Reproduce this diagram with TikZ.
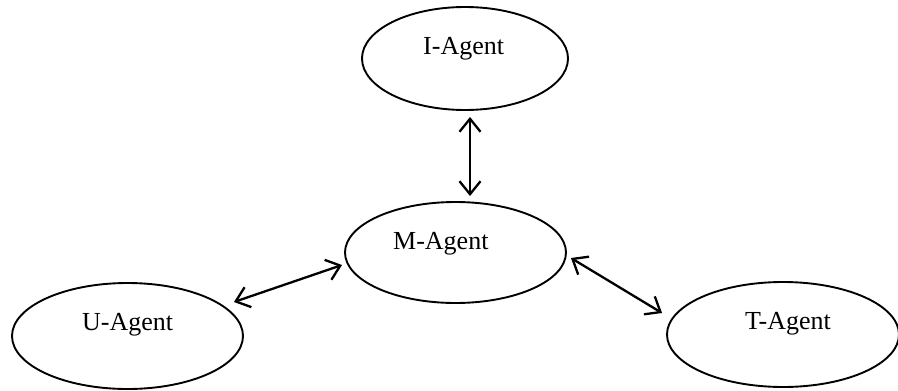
\documentclass[tikz,border=0pt]{standalone}
\usepackage{fontspec}
\setmainfont{Liberation Serif}
\usetikzlibrary{shapes.geometric,arrows.meta}
\begin{document}
\begin{tikzpicture}[x=1pt,y=-1pt,
  agent/.style={draw, ellipse, line width=1.9pt, inner sep=0pt},
  lbl/.style={anchor=base west, inner sep=0pt, font=\fontsize{26}{30}\selectfont},
  link/.style={line width=2.3pt,
    {Straight Barb[length=13pt,width=21pt,line width=2.3pt]}-{Straight Barb[length=13pt,width=21pt,line width=2.3pt]}}]
\useasboundingbox (0,0) rectangle (898,391);
\node[agent, minimum width=206pt, minimum height=103pt] (I) at (465,58.5) {};
\node[agent, minimum width=221pt, minimum height=101pt] (M) at (455.5,252.5) {};
\node[agent, minimum width=231pt, minimum height=106pt] (U) at (127.5,336) {};
\node[agent, minimum width=232pt, minimum height=105pt] (T) at (783,334.5) {};
\node[lbl] (It) at (423,54) {I-Agent};
\node[lbl] (Mt) at (393,249) {M-Agent};
\node[lbl] (Ut) at (82,330) {U-Agent};
\node[lbl] (Tt) at (745,329) {T-Agent};
\draw[link] ([shift={(5,6)}]I.south) -- ([shift={(14.5,-5)}]M.north);
\draw[link] ([shift={(-10,-34)}]U.east) -- ([shift={(-2,12.5)}]M.west);
\draw[link] ([shift={(4,5.5)}]M.east) -- ([shift={(-4,-21.5)}]T.west);
\end{tikzpicture}
\end{document}
